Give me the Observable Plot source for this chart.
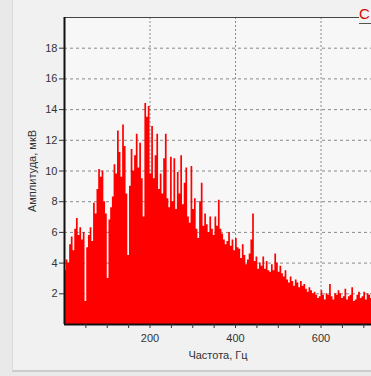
<!DOCTYPE html>
<html>
<head>
<meta charset="utf-8">
<script src="https://cdn.jsdelivr.net/npm/d3@7"></script>
<script src="https://cdn.jsdelivr.net/npm/@observablehq/plot@0.6"></script>
<style>
  html, body { margin: 0; padding: 0; width: 371px; height: 376px; overflow: hidden; background: #e9e9e9; }
  #panel { position: absolute; left: 12px; top: -2px; width: 400px; height: 372px; background: #f1f1f1;
           border-left: 1px solid #dadada; border-bottom: 2px solid #cccccc; }
  #chart { position: absolute; left: 0; top: 0; }
  #legend { position: absolute; left: 359px; top: 4px; width: 12px; padding: 0; background: #f1f1f1;
            color: #e00000; font: 15px "Liberation Sans", Arial, sans-serif; white-space: nowrap;
            border-bottom: 1px solid #555; line-height: 19px; }
</style>
</head>
<body>
<div id="panel"></div>
<div id="chart"></div>
<div id="legend">С</div>
<script>
const freqs = [2,6,10,14,18,22,26,30,34,38,42,46,50,54,58,62,66,70,74,78,82,86,90,94,98,
  102,106,110,114,118,122,126,130,134,138,142,146,150,154,158,162,166,170,174,178,182,186,190,194,198,
  202,206,210,214,218,222,226,230,234,238,242,246,250,254,258,262,266,270,274,278,282,286,290,294,298,
  302,306,310,314,318,322,326,330,334,338,342,346,350,354,358,362,366,370,374,378,382,386,390,394,398,
  402,406,410,414,418,422,426,430,434,438,442,446,450,454,458,462,466,470,474,478,482,486,490,494,498,
  502,506,510,514,518,522,526,530,534,538,542,546,550,554,558,562,566,570,574,578,582,586,590,594,598,
  602,606,610,614,618,622,626,630,634,638,642,646,650,654,658,662,666,670,674,678,682,686,690,694,698,
  702,706,710,714,718];
const amplitudes = [3.5,4.2,4.0,5.2,5.7,4.8,6.2,6.9,5.8,6.3,5.5,6.0,1.5,5.0,5.8,6.3,5.4,7.9,7.2,8.8,10.1,9.6,10.0,8.0,7.2,
  3.0,6.8,7.6,8.3,10.4,9.8,12.6,11.2,9.6,13.0,11.6,8.5,4.5,9.0,11.4,10.0,11.0,12.4,10.2,11.8,9.5,7.0,14.4,13.5,14.2,
  9.8,12.9,9.5,11.0,12.4,8.8,9.8,8.5,10.8,12.4,8.2,7.6,10.9,8.0,10.8,7.5,9.9,8.5,11.0,7.8,9.2,10.2,7.0,6.6,10.3,
  7.5,8.2,6.2,5.6,8.0,9.2,6.4,7.2,6.5,6.0,7.0,6.2,5.8,7.0,6.4,8.1,6.2,5.9,5.5,5.2,5.4,6.0,5.1,5.5,4.8,
  5.6,5.0,4.9,4.3,5.2,4.5,3.9,4.2,4.6,5.5,7.2,4.1,4.4,3.6,4.0,3.8,4.4,3.6,4.1,3.5,3.4,3.9,3.5,4.6,4.0,
  3.4,3.8,3.3,3.1,3.5,2.9,2.7,3.1,2.8,2.5,2.9,2.7,2.4,2.8,2.5,2.6,2.3,2.1,2.4,2.2,2.0,2.1,1.9,1.7,1.8,
  2.2,1.9,1.6,2.0,1.9,2.6,1.8,1.6,2.0,1.9,2.2,2.0,1.7,1.8,2.3,1.6,1.8,1.9,2.4,1.5,1.6,1.9,2.1,1.7,1.8,
  2.1,1.6,2.0,1.9,1.7];
const yTicks = [2,4,6,8,10,12,14,16,18];
const xMinorTicks = [50,100,150,200,250,300,350,400,450,500,550,600,650,700];
const xLabels = [200,400,600];
const xGrid = [200,400,600];
const yGrid = [2,4,6,8,10,12,14,16,18];

const spectrum = freqs.map((f, i) => ({f, v: amplitudes[i]}));

const chart = Plot.plot({
  width: 371,
  height: 376,
  marginLeft: 64,
  marginRight: 0,
  marginTop: 17,
  marginBottom: 52,
  style: {background: "transparent", fontFamily: "'Liberation Sans', Arial, sans-serif", fontSize: "11px", color: "#333"},
  x: {domain: [0, 718]},
  y: {domain: [0, 20]},
  marks: [
    Plot.frame({fill: "#f7f7f7", stroke: null}),
    Plot.gridY(yGrid, {stroke: "#8a8a8a", strokeOpacity: 1, strokeDasharray: "3,3"}),
    Plot.gridX(xGrid, {stroke: "#8a8a8a", strokeOpacity: 1, strokeDasharray: "2,2"}),
    Plot.areaY(spectrum, {x: "f", y: "v", fill: "#ff0000", curve: "step"}),
    Plot.ruleY([20], {stroke: "#444", strokeWidth: 1.2}),
    Plot.ruleX([0], {stroke: "#111", strokeWidth: 2}),
    Plot.ruleY([0], {stroke: "#111", strokeWidth: 2}),
    Plot.axisY({ticks: yTicks, tickSize: 5, tickPadding: 2, label: "Амплитуда, мкВ",
      labelAnchor: "center", labelArrow: "none", labelOffset: 36}),
    Plot.axisX({ticks: xMinorTicks, tickSize: 4, tickPadding: 6,
      tickFormat: d => xLabels.includes(d) ? String(d) : "", label: "Частота, Гц",
      labelAnchor: "center", labelArrow: "none", labelOffset: 34})
  ]
});
document.getElementById("chart").appendChild(chart);
</script>
</body>
</html>
